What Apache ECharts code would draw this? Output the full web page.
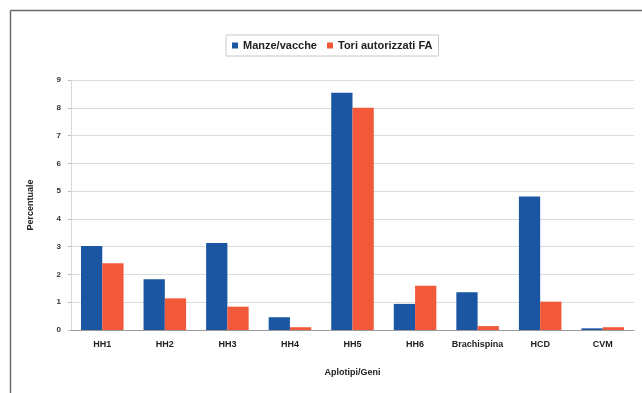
<!DOCTYPE html>
<html>
<head>
<meta charset="utf-8">
<script src="https://cdn.jsdelivr.net/npm/echarts@6/dist/echarts.min.js"></script>
<style>
  html, body { margin: 0; padding: 0; background: #fff; }
  #chart { width: 642px; height: 393px; }
</style>
</head>
<body>
<div id="chart"></div>
<script>
// Frequenze percentuali per aplotipo / gene
const categories = ['HH1', 'HH2', 'HH3', 'HH4', 'HH5', 'HH6', 'Brachispina', 'HCD', 'CVM'];
const manzeVacche = [3.02, 1.83, 3.13, 0.46, 8.54, 0.94, 1.36, 4.81, 0.06];
const toriAutorizzati = [2.4, 1.14, 0.84, 0.1, 8.0, 1.59, 0.14, 1.02, 0.1];
const yTicks = [0, 1, 2, 3, 4, 5, 6, 7, 8, 9];

const font = 'Liberation Sans, Arial, sans-serif';
const chart = echarts.init(document.getElementById('chart'));

chart.setOption({
  backgroundColor: '#ffffff',
  animation: false,
  graphic: [
    { type: 'line', shape: { x1: 10.5, y1: 10.5, x2: 642, y2: 10.5 }, style: { stroke: '#6a6a6a', lineWidth: 1.5 } },
    { type: 'line', shape: { x1: 10.5, y1: 10.5, x2: 10.5, y2: 393 }, style: { stroke: '#6a6a6a', lineWidth: 1.5 } }
  ],
  legend: {
    top: 35,
    left: 226,
    icon: 'rect',
    itemWidth: 6,
    itemHeight: 6,
    itemGap: 10,
    padding: [5, 6],
    borderColor: '#c8c8c8',
    borderWidth: 1,
    textStyle: { fontFamily: font, fontSize: 11, fontWeight: 'bold', color: '#222' },
    data: ['Manze/vacche', 'Tori autorizzati FA']
  },
  grid: { left: 71, right: 8, top: 80, bottom: 63 },
  xAxis: {
    type: 'category',
    data: categories,
    name: 'Aplotipi/Geni',
    nameLocation: 'middle',
    nameGap: 38,
    nameTextStyle: { fontFamily: font, fontSize: 9, fontWeight: 'bold', color: '#222' },
    axisLine: { lineStyle: { color: '#9a9a9a' } },
    axisTick: { show: false },
    axisLabel: { interval: 0, fontFamily: font, fontSize: 9, fontWeight: 'bold', color: '#222', margin: 10 }
  },
  yAxis: {
    type: 'value',
    min: 0,
    max: 9,
    interval: 1,
    name: 'Percentuale',
    nameLocation: 'middle',
    nameGap: 36,
    nameTextStyle: { fontFamily: font, fontSize: 9, fontWeight: 'bold', color: '#222' },
    axisLine: { show: true, lineStyle: { color: '#d8d8d8' } },
    axisTick: { show: true, length: 3, lineStyle: { color: '#bbbbbb' } },
    axisLabel: {
      fontFamily: font, fontSize: 8, fontWeight: 'bold', color: '#333', margin: 10,
      formatter: v => (yTicks.includes(v) ? String(v) : '')
    },
    splitLine: { lineStyle: { color: '#dcdcdc' } }
  },
  series: [
    {
      name: 'Manze/vacche',
      type: 'bar',
      data: manzeVacche,
      barGap: '0%',
      barCategoryGap: '32%',
      itemStyle: { color: '#1b56a2' }
    },
    {
      name: 'Tori autorizzati FA',
      type: 'bar',
      data: toriAutorizzati,
      itemStyle: { color: '#f2593b' }
    }
  ]
});
</script>
</body>
</html>
